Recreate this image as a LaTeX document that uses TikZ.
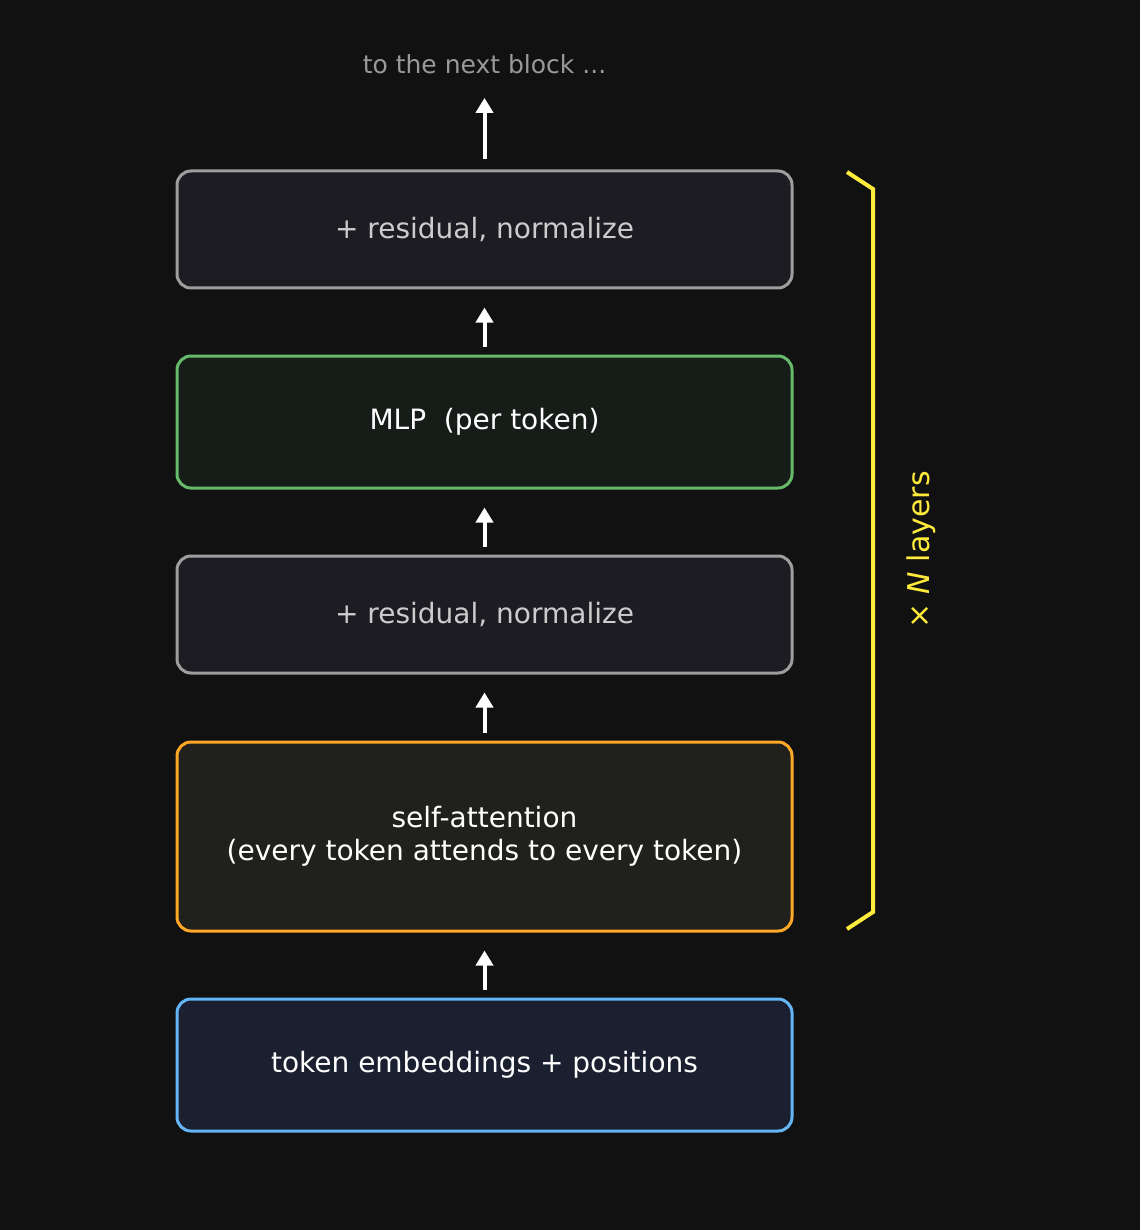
\documentclass[tikz,border=0pt]{standalone}
\usepackage{fontspec}
\setmainfont{DejaVu Sans}
\usetikzlibrary{arrows.meta}
\definecolor{bg}{HTML}{111111}
\definecolor{grayfill}{HTML}{1C1C22}
\definecolor{grayline}{HTML}{9E9E9E}
\definecolor{graytext}{HTML}{CCCCCC}
\definecolor{greenfill}{HTML}{161C17}
\definecolor{greenline}{HTML}{66BB6A}
\definecolor{orangefill}{HTML}{20201C}
\definecolor{orangeline}{HTML}{FFA726}
\definecolor{bluefill}{HTML}{1B2030}
\definecolor{blueline}{HTML}{64B5F6}
\definecolor{toptext}{HTML}{999999}
\definecolor{yel}{HTML}{FFEB3B}
\tikzset{
  blockbox/.style={rounded corners=14pt, line width=3pt, minimum width=615pt, align=center,
    font=\fontsize{28}{33}\selectfont, inner sep=0pt},
  graybox/.style={blockbox, draw=grayline, fill=grayfill, text=graytext, minimum height=117pt},
  greenbox/.style={blockbox, draw=greenline, fill=greenfill, text=white, minimum height=132pt},
  orangebox/.style={blockbox, draw=orangeline, fill=orangefill, text=white, minimum height=189pt},
  bluebox/.style={blockbox, draw=blueline, fill=bluefill, text=white, minimum height=132pt},
  uparrow/.style={-{Triangle[width=17pt,length=15pt]}, white, line width=4pt},
}
\begin{document}
\begin{tikzpicture}[x=1pt,y=-1pt]
\fill[bg] (0,0) rectangle (1140,1230);
\useasboundingbox (0,0) rectangle (1140,1230);
\node[text=toptext, font=\fontsize{25}{30}\selectfont, inner sep=0pt] (next) at (484.5,64) {to the next block ...};
\node[graybox] (res2) at (484.5,229.5) {+ residual, normalize};
\node[greenbox] (mlp) at (484.5,422) {MLP\ \ (per token)};
\node[graybox] (res1) at (484.5,614.5) {+ residual, normalize};
\node[orangebox] (att) at (484.5,836.5) {self-attention\\(every token attends to every token)};
\node[bluebox] (emb) at (484.5,1065) {token embeddings + positions};
\draw[uparrow, shorten <=10pt, shorten >=24pt] (res2.north) -- (next.south);
\draw[uparrow, shorten <=8pt, shorten >=18pt] (mlp.north) -- (res2.south);
\draw[uparrow, shorten <=8pt, shorten >=18pt] (res1.north) -- (mlp.south);
\draw[uparrow, shorten <=8pt, shorten >=18pt] (att.north) -- (res1.south);
\draw[uparrow, shorten <=8pt, shorten >=18pt] (emb.north) -- (att.south);
\coordinate (b1) at (847,172);
\coordinate (b2) at (873,189);
\coordinate (b3) at (873,912);
\coordinate (b4) at (847,929);
\draw[yel, line width=4pt] (b1) -- (b2) -- (b3) -- (b4);
\node[text=yel, rotate=90, font=\fontsize{30}{36}\selectfont, inner sep=0pt] (nl) at (921,550) {× \textit{N} layers};
\end{tikzpicture}
\end{document}
